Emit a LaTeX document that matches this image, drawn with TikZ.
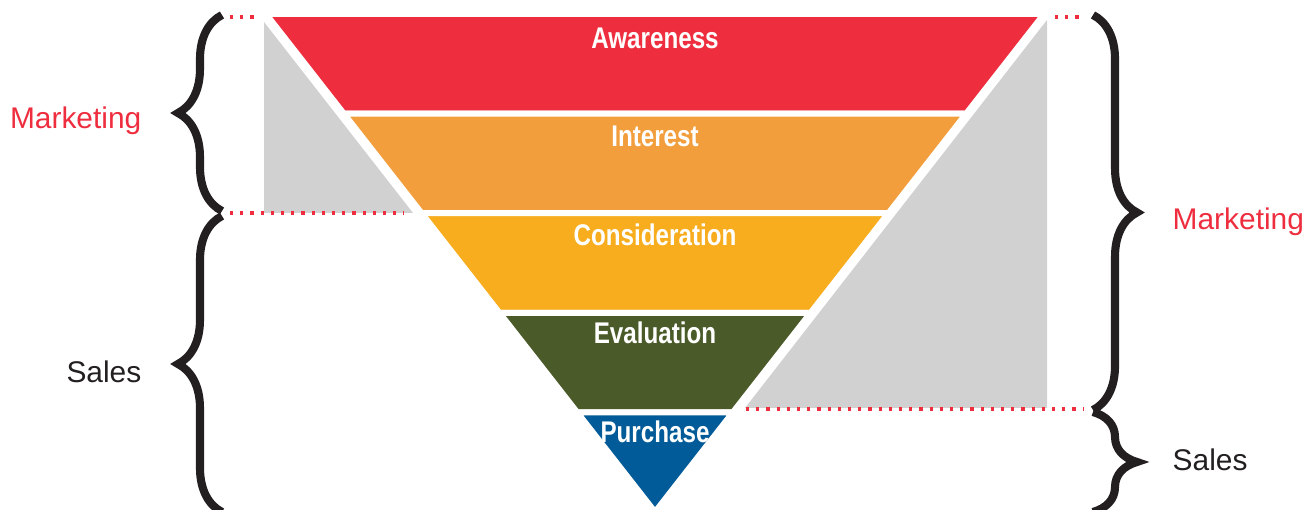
\documentclass[tikz,border=0pt]{standalone}
\usepackage{fontspec}
\setmainfont{Liberation Sans}
\newfontfamily\condfont[FakeStretch=0.81]{Liberation Sans}
\usepackage{tikz}
\usetikzlibrary{shapes,decorations.pathreplacing,positioning,calc}

\definecolor{funnelred}{RGB}{238,46,63}
\definecolor{funnelorange}{RGB}{242,158,60}
\definecolor{funnelyellow}{RGB}{248,173,30}
\definecolor{funnelgreen}{RGB}{75,90,41}
\definecolor{funnelblue}{RGB}{0,91,152}
\definecolor{shadegrey}{RGB}{209,209,209}
\definecolor{braceblack}{RGB}{35,31,32}

\begin{document}
\begin{tikzpicture}[x=0.01cm,y=-0.01cm]
			\tikzstyle{Band}	= [draw=white, line width=1.7pt, line join=miter]
			\tikzstyle{Shade}	= [fill=shadegrey]
			\tikzstyle{Stage}	= [text=white, inner sep=0pt, font=\condfont\bfseries\fontsize{8.5}{10}\selectfont]
			\tikzstyle{Team}	= [inner sep=0pt, font=\fontsize{8.5}{10}\selectfont]
			\tikzstyle{MK}		= [text=funnelred]
			\tikzstyle{SL}		= [text=braceblack]
			\tikzstyle{Dots}	= [dotted, line width=0.9pt, funnelred]
			\tikzstyle{Brace}	= [decorate, decoration={brace, amplitude=0.44cm}, line width=2.3pt, braceblack]
			
			\useasboundingbox (0,0) rectangle (1306,510);
			
			% grey wedges
			\fill [Shade] (264,22) -- (264,213) -- (413,213) -- cycle;
			\fill [Shade] (1047,20) -- (1047,408) -- (745,408) -- cycle;
			
			% funnel
			\coordinate (TL) at (266,14);
			\coordinate (TR) at (1044,14);
			\coordinate (A) at (655,512);
			\foreach \t/\c [evaluate=\t as \n using \t+0.2] in {0/funnelred, 0.2/funnelorange, 0.4/funnelyellow, 0.6/funnelgreen}
				\filldraw [Band, fill=\c] ($(TL)!\t!(A)$) -- ($(TR)!\t!(A)$) -- ($(TR)!\n!(A)$) -- ($(TL)!\n!(A)$) -- cycle;
			\filldraw [Band, fill=funnelblue] ($(TL)!0.8!(A)$) -- ($(TR)!0.8!(A)$) -- (A) -- cycle;
			
			\node (v1) at (655,49) [Stage, anchor=base] {Awareness};
			\node (v2) at (655,147) [Stage, anchor=base] {Interest};
			\node (v3) at (655,246) [Stage, anchor=base] {Consideration};
			\node (v4) at (655,344) [Stage, anchor=base] {Evaluation};
			\node (v5) at (655,443) [Stage, anchor=base] {Purchase};
			
			% dotted guides
			\coordinate (d1) at (230,17);
			\coordinate (d2) at (256,17);
			\coordinate (d3) at (230,213);
			\coordinate (d4) at (404,213);
			\coordinate (d5) at (1055,17);
			\coordinate (d6) at (1083,17);
			\coordinate (d7) at (746,409);
			\coordinate (d8) at (1083,409);
			\draw [Dots] (d1) to (d2);
			\draw [Dots] (d3) to (d4);
			\draw [Dots] (d5) to (d6);
			\draw [Dots] (d7) to (d8);
			
			% braces
			\coordinate (b1) at (222,15);
			\coordinate (b2) at (222,211);
			\coordinate (b3) at (222,216);
			\coordinate (b4) at (222,512);
			\coordinate (b5) at (1093,15);
			\coordinate (b6) at (1093,410);
			\coordinate (b7) at (1093,412);
			\coordinate (b8) at (1093,512);
			\draw [Brace] (b2) to (b1);
			\draw [Brace] (b4) to (b3);
			\draw [Brace] (b5) to (b6);
			\draw [Brace] (b7) to (b8);
			
			\node (m1) at (142,129) [Team, MK, anchor=base east] {Marketing};
			\node (s1) at (142,383) [Team, SL, anchor=base east] {Sales};
			\node (m2) at (1172,230) [Team, MK, anchor=base west] {Marketing};
			\node (s2) at (1172,471) [Team, SL, anchor=base west] {Sales};
		\end{tikzpicture}
\end{document}
